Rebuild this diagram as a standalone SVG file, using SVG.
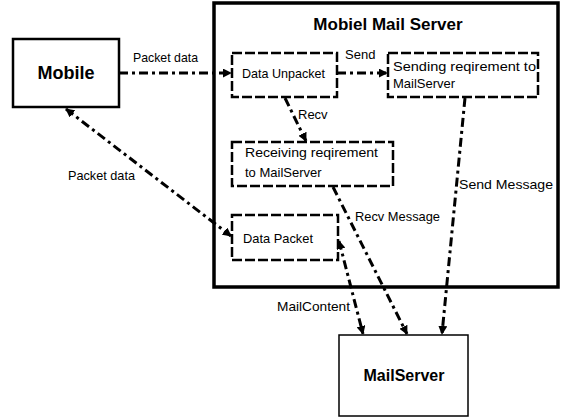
<svg xmlns="http://www.w3.org/2000/svg" width="563" height="418" viewBox="0 0 563 418">
<style>
.box{fill:#fff;stroke:#000}
.inner{fill:none;stroke:#000;stroke-width:2.5;stroke-dasharray:10 3}
.t{font-family:"Liberation Sans",Arial,sans-serif;font-size:13px;fill:#000}
.b{font-family:"Liberation Sans",Arial,sans-serif;font-weight:bold;fill:#000}
.c{fill:none;stroke:#000;stroke-width:3;stroke-dasharray:9 4 3 4}
</style>
<defs>
<marker id="ah" viewBox="0 0 10 10" refX="9" refY="5" markerWidth="3" markerHeight="3" orient="auto-start-reverse" markerUnits="strokeWidth">
<path d="M0,0 L10,5 L0,10 z" fill="#000"/>
</marker>
</defs>
<rect width="563" height="418" fill="#fff"/>
<g id="mobile">
<rect class="box" x="13" y="39" width="106" height="68" stroke-width="2.5"/>
<text class="b" x="66" y="79" font-size="18" text-anchor="middle">Mobile</text>
</g>
<g id="mobiel-mail-server">
<rect class="box" x="214" y="3" width="344" height="284" stroke-width="3.5"/>
<text class="b" x="388" y="30" font-size="17" text-anchor="middle">Mobiel Mail Server</text>
</g>
<g id="data-unpacket">
<rect class="inner" x="232" y="53" width="105" height="44"/>
<text class="t" x="242" y="78" textLength="83" lengthAdjust="spacingAndGlyphs">Data Unpacket</text>
</g>
<g id="sending">
<rect class="inner" x="388" y="53" width="150" height="44"/>
<text class="t" x="393" y="71" textLength="143" lengthAdjust="spacingAndGlyphs">Sending reqirement to</text>
<text class="t" x="393" y="88">MailServer</text>
</g>
<g id="receiving">
<rect class="inner" x="232" y="142" width="161" height="44"/>
<text class="t" x="245" y="157" textLength="133" lengthAdjust="spacingAndGlyphs">Receiving reqirement</text>
<text class="t" x="245" y="177">to MailServer</text>
</g>
<g id="data-packet">
<rect class="inner" x="232" y="215" width="106" height="45"/>
<text class="t" x="243" y="243" textLength="70" lengthAdjust="spacingAndGlyphs">Data Packet</text>
</g>
<g id="mailserver">
<rect class="box" x="339" y="335" width="129" height="81" stroke-width="1.5"/>
<text class="b" x="404" y="381" font-size="16" text-anchor="middle">MailServer</text>
</g>
<g id="connectors">
<line class="c" x1="119" y1="73" x2="231" y2="73" marker-end="url(#ah)"/>
<line class="c" x1="337" y1="73" x2="387" y2="73" marker-end="url(#ah)"/>
<line class="c" x1="285" y1="98" x2="306" y2="141" marker-end="url(#ah)"/>
<line class="c" x1="333" y1="187" x2="407" y2="334" marker-end="url(#ah)"/>
<line class="c" x1="465" y1="98" x2="442" y2="334" marker-end="url(#ah)"/>
<line class="c" x1="339" y1="241" x2="363" y2="334" marker-start="url(#ah)" marker-end="url(#ah)"/>
<line class="c" x1="66" y1="109" x2="231" y2="236" marker-start="url(#ah)" marker-end="url(#ah)"/>
<text class="t" x="133" y="62" textLength="65" lengthAdjust="spacingAndGlyphs">Packet data</text>
<text class="t" x="345" y="59">Send</text>
<text class="t" x="298" y="119" font-size="11">Recv</text>
<text class="t" x="355" y="221" textLength="85" lengthAdjust="spacingAndGlyphs">Recv Message</text>
<text class="t" x="459" y="189" textLength="94" lengthAdjust="spacingAndGlyphs">Send Message</text>
<text class="t" x="277" y="311" textLength="73" lengthAdjust="spacingAndGlyphs">MailContent</text>
<text class="t" x="68" y="180" textLength="67" lengthAdjust="spacingAndGlyphs">Packet data</text>
</g>
</svg>
